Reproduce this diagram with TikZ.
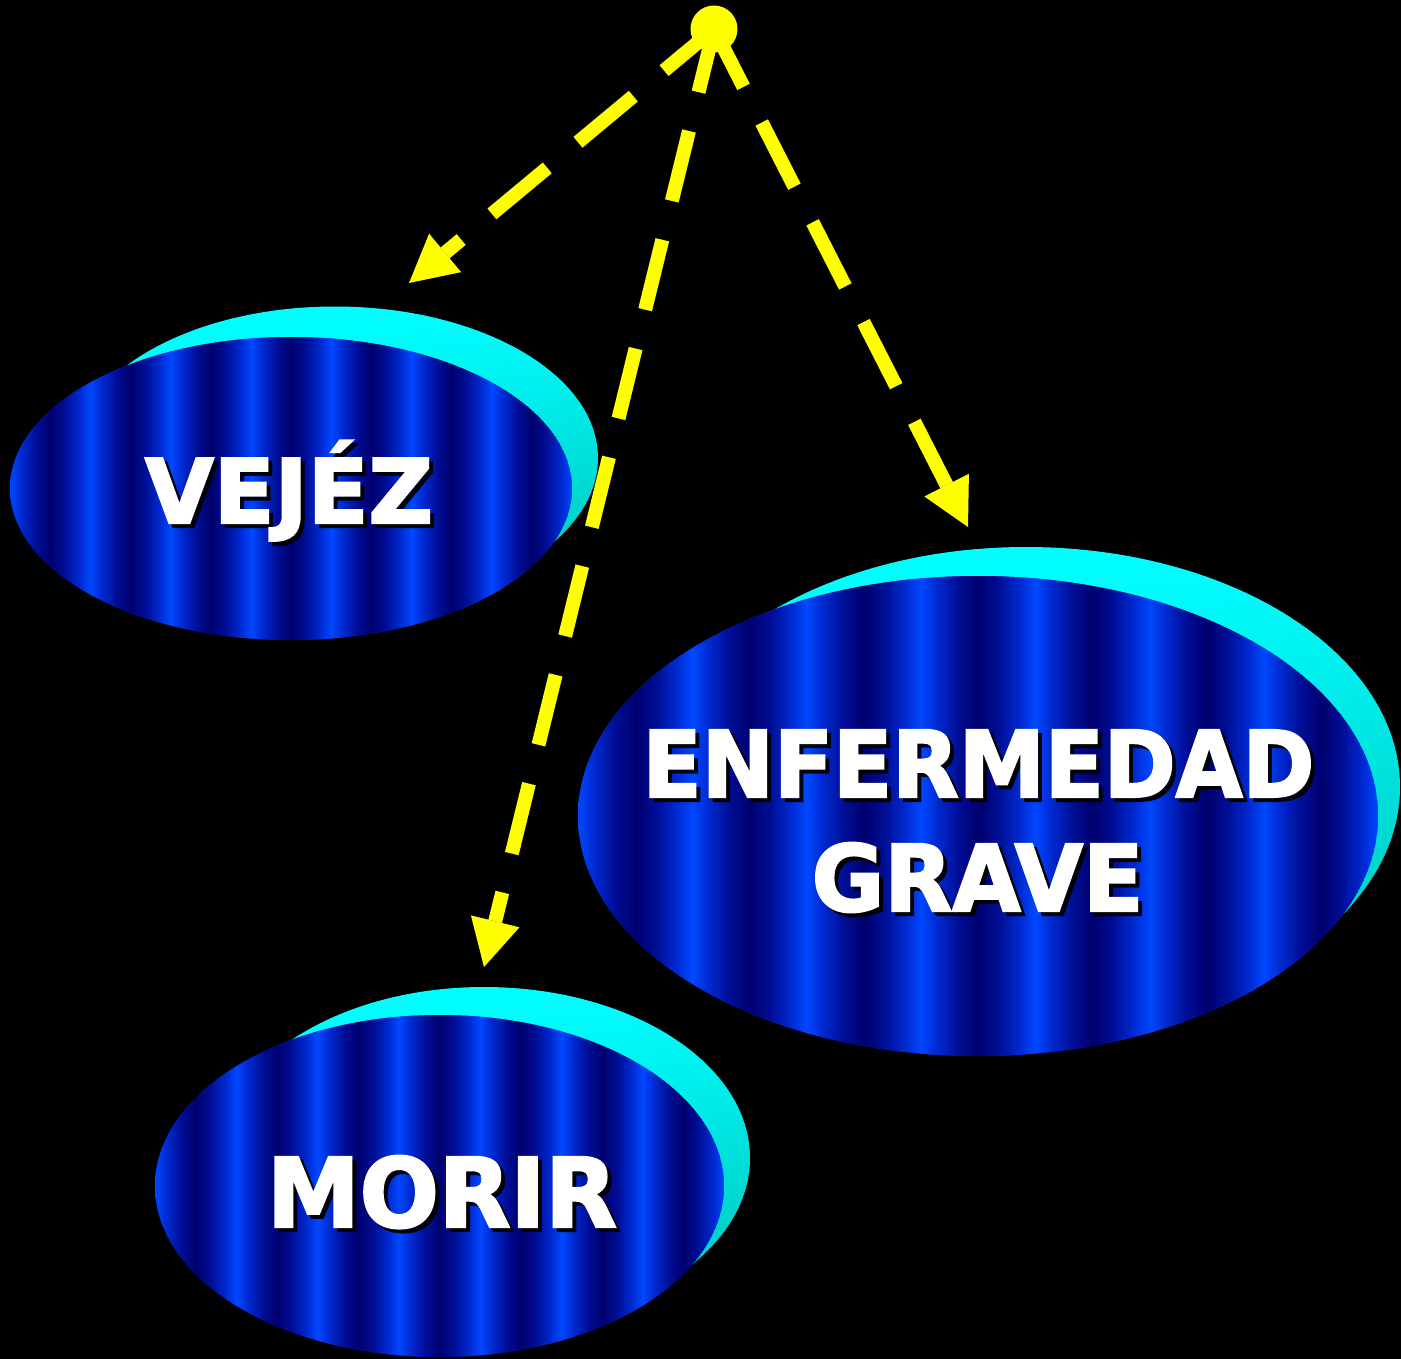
\documentclass[tikz,border=0pt]{standalone}
\usepackage{fontspec}
\setmainfont{DejaVu Sans}
\newfontfamily\heavyfont[BoldFeatures={FakeBold=2.5}]{DejaVu Sans}
\usepackage{graphicx}
\usetikzlibrary{arrows.meta,shadings}
\definecolor{bb}{RGB}{0,72,255}
\definecolor{bm}{RGB}{0,45,215}
\definecolor{bk}{RGB}{0,14,150}
\definecolor{bd}{RGB}{0,0,110}
\definecolor{cyanc}{RGB}{0,255,255}
\definecolor{tealc}{RGB}{0,190,180}
\definecolor{yel}{RGB}{255,255,0}
\newcommand\stripedisc[5]{%
\begin{scope}
\clip (#1,#2) ellipse [x radius=#3, y radius=#4];
\fill[bm] (#1,#2) ellipse [x radius=#3, y radius=#4];
\pgfmathsetmacro\per{2*#3/7}
\foreach \k in {-1,...,7}{%
 \pgfmathsetmacro\xo{#1-#3+\per*\k+#5}
 \shade[left color=bb,right color=bm] (\xo,#2-#4-2) rectangle (\xo+0.12*\per+0.6,#2+#4+2);
 \shade[left color=bm,right color=bk] (\xo+0.12*\per,#2-#4-2) rectangle (\xo+0.32*\per+0.6,#2+#4+2);
 \shade[left color=bk,right color=bd] (\xo+0.32*\per,#2-#4-2) rectangle (\xo+0.5*\per+0.6,#2+#4+2);
 \shade[left color=bd,right color=bk] (\xo+0.5*\per,#2-#4-2) rectangle (\xo+0.68*\per+0.6,#2+#4+2);
 \shade[left color=bk,right color=bm] (\xo+0.68*\per,#2-#4-2) rectangle (\xo+0.88*\per+0.6,#2+#4+2);
 \shade[left color=bm,right color=bb] (\xo+0.88*\per,#2-#4-2) rectangle (\xo+\per+0.6,#2+#4+2);
}%
\end{scope}}
\tikzset{
  backdisc/.style={upper left=cyanc, upper right=cyanc, lower left=cyanc, lower right=tealc},
  dasharrow/.style={draw=yel, line width=14pt, dash pattern=on 72pt off 40pt, dash phase=7pt,
    -{Triangle[length=47pt,width=50pt,line width=0pt]}},
  lbl/.style={text=white, anchor=base, inner sep=0pt},
  lblshadow/.style={text=black, opacity=0.9, anchor=base, inner sep=0pt},
}
\begin{document}
\begin{tikzpicture}[x=1pt,y=-1pt]
\useasboundingbox (0,0) rectangle (1401,1359);
\fill[black] (0,0) rectangle (1401,1359);

% VEJEZ disc
\shade[backdisc] (335,458) ellipse [x radius=263, y radius=151.5];
\stripedisc{291}{488.5}{281}{151.5}{0}
% ENFERMEDAD disc
\shade[backdisc] (1026,787) ellipse [x radius=374, y radius=240];
\stripedisc{978}{816}{400}{240}{0}
% MORIR disc
\shade[backdisc] (484,1158) ellipse [x radius=266, y radius=171];
\stripedisc{439.5}{1186}{284.5}{171}{0}

% labels
\node[lblshadow, font=\heavyfont\bfseries\fontsize{89}{89}\selectfont] at (293,527) {\scalebox{1.0}[1]{VEJÉZ}};
\node[lbl, font=\heavyfont\bfseries\fontsize{89}{89}\selectfont] (vejez) at (289,523) {\scalebox{1.0}[1]{VEJÉZ}};
\node[lblshadow, font=\heavyfont\bfseries\fontsize{92}{92}\selectfont] at (982.5,801) {\scalebox{0.94}[1]{ENFERMEDAD}};
\node[lbl, font=\heavyfont\bfseries\fontsize{92}{92}\selectfont] (enf) at (978.5,797) {\scalebox{0.94}[1]{ENFERMEDAD}};
\node[lblshadow, font=\heavyfont\bfseries\fontsize{92}{92}\selectfont] at (981.5,915) {\scalebox{0.96}[1]{GRAVE}};
\node[lbl, font=\heavyfont\bfseries\fontsize{92}{92}\selectfont] (grave) at (977.5,911) {\scalebox{0.96}[1]{GRAVE}};
\node[lblshadow, font=\heavyfont\bfseries\fontsize{96}{96}\selectfont] at (446,1231) {\scalebox{0.97}[1]{MORIR}};
\node[lbl, font=\heavyfont\bfseries\fontsize{96}{96}\selectfont] (morir) at (442,1227) {\scalebox{0.97}[1]{MORIR}};

% source dot and arrows
\node[circle, fill=yel, minimum size=47pt, inner sep=0pt] (src) at (714,29) {};
\coordinate (tipV) at (409,283);
\coordinate (tipM) at (484,967);
\coordinate (tipE) at (968,527);
\draw[dasharrow] (src.center) -- (tipV);
\draw[dasharrow] (src.center) -- (tipM);
\draw[dasharrow] (src.center) -- (tipE);
\end{tikzpicture}
\end{document}
